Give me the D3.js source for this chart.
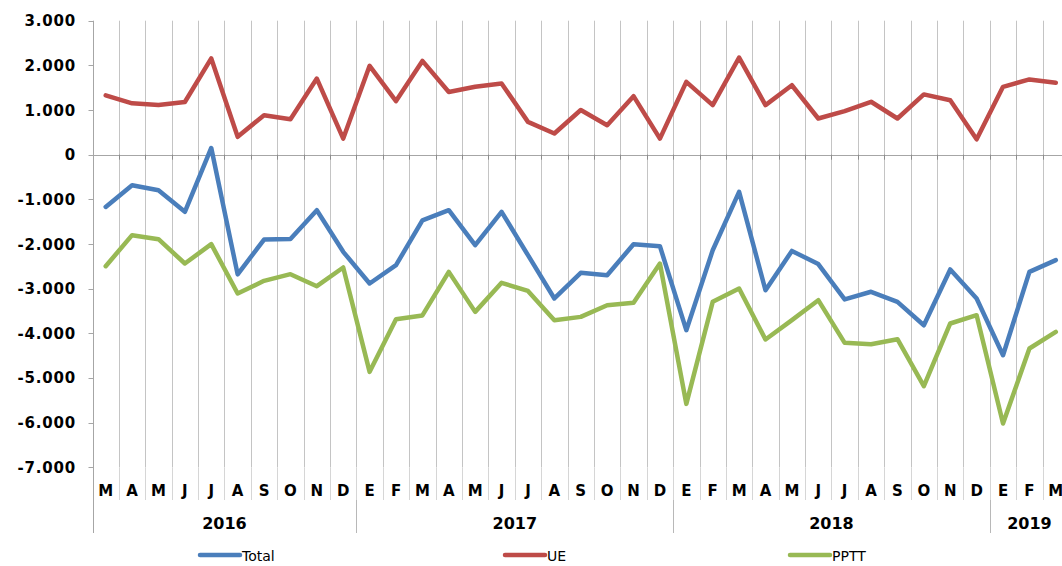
<!DOCTYPE html>
<html>
<head>
<meta charset="utf-8">
<script src="https://cdn.jsdelivr.net/npm/d3@7"></script>
<style>
  body { margin: 0; background: #fff; }
  svg { display: block; }
</style>
</head>
<body>
<div id="chart"></div>
<script>
// Monthly balance, March 2016 - March 2019
const months = ["M","A","M","J","J","A","S","O","N","D",
                "E","F","M","A","M","J","J","A","S","O","N","D",
                "E","F","M","A","M","J","J","A","S","O","N","D",
                "E","F","M"];
const years = [
  { label: "2016", count: 10 },
  { label: "2017", count: 12 },
  { label: "2018", count: 12 },
  { label: "2019", count: 3 }
];

const total = [-1170, -683, -795, -1280, 150, -2680, -1900, -1890, -1243, -2175,
               -2885, -2475, -1470, -1243, -2026, -1280, -2250, -3220, -2645, -2700, -2005, -2050,
               -3930, -2140, -833, -3035, -2155, -2450, -3240, -3070, -3295, -3820, -2570, -3220,
               -4490, -2625, -2360];
const ue = [1330, 1150, 1110, 1180, 2155, 400, 885, 795, 1705, 360,
            1990, 1200, 2100, 1405, 1520, 1595, 735, 475, 1000, 660, 1310, 360,
            1630, 1110, 2175, 1110, 1555, 810, 975, 1185, 810, 1350, 1220, 345,
            1520, 1685, 1610];
const pptt = [-2497, -1802, -1892, -2437, -2004, -3108, -2825, -2676, -2945, -2526,
              -4863, -3683, -3600, -2624, -3520, -2870, -3050, -3706, -3632, -3370, -3318, -2437,
              -5580, -3295, -2996, -4138, -3706, -3258, -4213, -4243, -4131, -5184, -3780, -3594,
              -6019, -4340, -3967];

const yTicks = [3000, 2000, 1000, 0, -1000, -2000, -3000, -4000, -5000, -6000, -7000];

const series = [
  { name: "Total", values: total, color: "#4a7ebb", legendX: 200 },
  { name: "UE",    values: ue,    color: "#be4b48", legendX: 505 },
  { name: "PPTT",  values: pptt,  color: "#98b954", legendX: 790 }
];

const width = 1062, height = 566;
const plotLeft = 92.5, plotRight = 1069;
const plotTop = 20.7, plotBottom = 467.3;
const monthRowBottom = 500, yearRowBottom = 533;

const FONT = "DejaVu Sans, Verdana, sans-serif";

const locale = d3.formatLocale({ decimal: ",", thousands: ".", grouping: [3], currency: ["", ""], minus: "-" });
const fmt = locale.format(",");

const x = d3.scaleBand()
  .domain(d3.range(months.length))
  .range([plotLeft, plotRight]);

const y = d3.scaleLinear()
  .domain([-7000, 3000])
  .range([plotBottom, plotTop]);

const svg = d3.select("#chart")
  .append("svg")
  .attr("width", width)
  .attr("height", height);

// vertical gridlines (category boundaries)
const bounds = d3.range(1, months.length).map(i => x(i));
svg.append("g")
  .selectAll("line")
  .data(bounds)
  .join("line")
  .attr("x1", d => Math.round(d) + 0.5).attr("x2", d => Math.round(d) + 0.5)
  .attr("y1", plotTop).attr("y2", plotBottom)
  .attr("stroke", "#c4c4c4")
  .attr("stroke-width", 1);

// month separators below plot
svg.append("g")
  .selectAll("line")
  .data(bounds)
  .join("line")
  .attr("x1", d => Math.round(d) + 0.5).attr("x2", d => Math.round(d) + 0.5)
  .attr("y1", plotBottom).attr("y2", monthRowBottom)
  .attr("stroke", "#d6d6d6")
  .attr("stroke-width", 1);

// year separators
let start = 0;
const yearPos = years.map(yr => {
  const s = start;
  start += yr.count;
  return { ...yr, x0: x(s), x1: s + yr.count < months.length ? x(s + yr.count) : plotRight };
});
svg.append("g")
  .selectAll("line")
  .data(yearPos.slice(1))
  .join("line")
  .attr("x1", d => Math.round(d.x0) + 0.5).attr("x2", d => Math.round(d.x0) + 0.5)
  .attr("y1", monthRowBottom).attr("y2", yearRowBottom)
  .attr("stroke", "#b8b8b8")
  .attr("stroke-width", 1);

// zero line with tick marks
svg.append("line")
  .attr("x1", plotLeft).attr("x2", width)
  .attr("y1", Math.round(y(0)) + 0.5).attr("y2", Math.round(y(0)) + 0.5)
  .attr("stroke", "#a6a6a6")
  .attr("stroke-width", 1.2);
svg.append("g")
  .selectAll("line")
  .data(bounds)
  .join("line")
  .attr("x1", d => Math.round(d) + 0.5).attr("x2", d => Math.round(d) + 0.5)
  .attr("y1", y(0)).attr("y2", y(0) + 5)
  .attr("stroke", "#8c8c8c")
  .attr("stroke-width", 1);

// left axis
const axisX = Math.round(plotLeft) + 0.5;
svg.append("line")
  .attr("x1", axisX).attr("x2", axisX)
  .attr("y1", plotTop).attr("y2", yearRowBottom)
  .attr("stroke", "#a6a6a6")
  .attr("stroke-width", 1);

svg.append("g")
  .selectAll("line")
  .data(yTicks)
  .join("line")
  .attr("x1", axisX - 5).attr("x2", axisX)
  .attr("y1", d => Math.round(y(d)) + 0.5).attr("y2", d => Math.round(y(d)) + 0.5)
  .attr("stroke", "#a6a6a6");

svg.append("g")
  .selectAll("text")
  .data(yTicks)
  .join("text")
  .attr("x", 76)
  .attr("y", d => y(d) + 5.5)
  .attr("text-anchor", "end")
  .style("font-family", FONT)
  .style("font-size", "15px")
  .style("font-weight", "bold")
  .style("letter-spacing", "0.8px")
  .style("fill", "#000")
  .text(d => fmt(d));

// month labels
svg.append("g")
  .selectAll("text")
  .data(months)
  .join("text")
  .attr("x", (d, i) => x(i) + x.bandwidth() / 2)
  .attr("y", 496)
  .attr("text-anchor", "middle")
  .style("font-family", FONT)
  .style("font-size", "15px")
  .style("font-weight", "bold")
  .style("fill", "#000")
  .text(d => d);

// year labels
svg.append("g")
  .selectAll("text")
  .data(yearPos)
  .join("text")
  .attr("x", d => (d.x0 + d.x1) / 2)
  .attr("y", 529)
  .attr("text-anchor", "middle")
  .style("font-family", FONT)
  .style("font-size", "16px")
  .style("font-weight", "bold")
  .style("fill", "#000")
  .text(d => d.label);

// lines
const line = d3.line()
  .x((d, i) => x(i) + x.bandwidth() / 2)
  .y(d => y(d));

svg.append("g")
  .selectAll("path")
  .data(series)
  .join("path")
  .attr("d", d => line(d.values))
  .attr("fill", "none")
  .attr("stroke", d => d.color)
  .attr("stroke-width", 4.5)
  .attr("stroke-linejoin", "round")
  .attr("stroke-linecap", "round");

// legend
const legend = svg.append("g")
  .selectAll("g")
  .data(series)
  .join("g")
  .attr("transform", d => `translate(${d.legendX}, 555)`);

legend.append("line")
  .attr("x1", 0).attr("x2", 40)
  .attr("y1", 0).attr("y2", 0)
  .attr("stroke", d => d.color)
  .attr("stroke-width", 4.5)
  .attr("stroke-linecap", "round");

legend.append("text")
  .attr("x", 42)
  .attr("y", 5.5)
  .style("font-family", FONT)
  .style("font-size", "14px")
  .style("fill", "#000")
  .text(d => d.name);
</script>
</body>
</html>
